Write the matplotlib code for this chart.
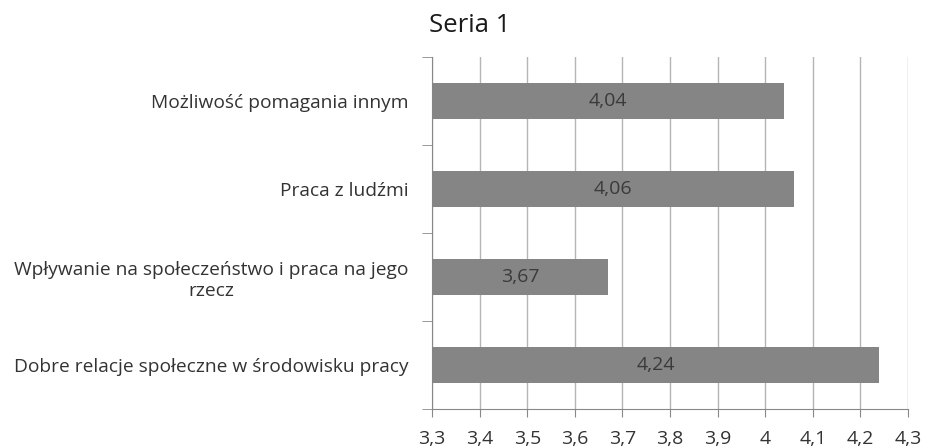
import matplotlib.pyplot as plt
import numpy as np

plt.rcParams['font.family'] = ['Open Sans', 'DejaVu Sans']

categories = ['Dobre relacje społeczne w środowisku pracy',
              'Wpływanie na społeczeństwo i praca na jego\nrzecz',
              'Praca z ludźmi',
              'Możliwość pomagania innym']
values = [4.24, 3.67, 4.06, 4.04]
labels = ['4,24', '3,67', '4,06', '4,04']
xticks = [3.3, 3.4, 3.5, 3.6, 3.7, 3.8, 3.9, 4.0, 4.1, 4.2, 4.3]
xticklabels = ['3,3', '3,4', '3,5', '3,6', '3,7', '3,8', '3,9', '4', '4,1', '4,2', '4,3']

x0 = 3.3
fig = plt.figure(figsize=(9.31, 4.48), dpi=100)
ax = fig.add_axes([432/931, 1 - 409/448, (908-432)/931, (409-57)/448])

y = np.arange(len(categories))
ax.barh(y, np.array(values) - x0, left=x0, height=0.4, color='#858585', zorder=3)
for yi, v, lab in zip(y, values, labels):
    ax.text((x0 + v) / 2, yi, lab, ha='center', va='center', fontsize=14, color='#3a3a3a', zorder=4)

ax.set_xlim(3.3, 4.3)
ax.set_ylim(-0.5, len(categories) - 0.5)
ax.set_xticks(xticks)
ax.set_xticklabels(xticklabels, fontsize=14, color='#333333')
ax.set_yticks(y)
ax.set_yticklabels(categories, fontsize=13.8, color='#333333', ha='right', multialignment='center')
ax.tick_params(axis='y', which='major', length=0, pad=17)
ax.set_yticks(np.arange(-0.5, len(categories)), minor=True)
ax.tick_params(axis='y', which='minor', length=7, color='#888888')
ax.tick_params(axis='x', length=6, color='#888888', pad=9)

ax.grid(axis='x', color='#b5b5b5', linewidth=1, zorder=0)
for s in ['top', 'right']:
    ax.spines[s].set_visible(False)
ax.spines['left'].set_color('#888888')
ax.spines['bottom'].set_color('#888888')

fig.text(470/931, 1 - 25/448, 'Seria 1', ha='center', va='center', fontsize=18.5, color='#1a1a1a')

fig.savefig('out.png', dpi=100)
